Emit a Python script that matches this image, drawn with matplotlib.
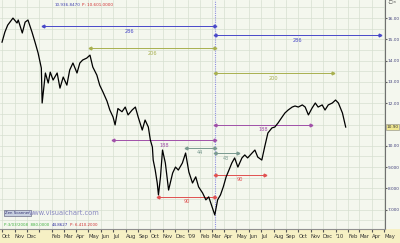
import numpy as np
import pandas as pd
import matplotlib
matplotlib.use("Agg")
import matplotlib.pyplot as plt
import matplotlib.dates as mdates
from matplotlib.patches import Rectangle

# price trace
dates = ["2007-10-01", "2007-10-08", "2007-10-15", "2007-10-28", "2007-11-07", "2007-11-10",
         "2007-11-20", "2007-11-27", "2007-12-04", "2007-12-14", "2007-12-22", "2007-12-29",
         "2008-01-06", "2008-01-08", "2008-01-16", "2008-01-23", "2008-01-28", "2008-02-04",
         "2008-02-14", "2008-02-21", "2008-02-29", "2008-03-09", "2008-03-16", "2008-03-24",
         "2008-04-03", "2008-04-10", "2008-04-17", "2008-04-27", "2008-05-05", "2008-05-12",
         "2008-05-22", "2008-05-29", "2008-06-06", "2008-06-16", "2008-06-23", "2008-07-01",
         "2008-07-06", "2008-07-13", "2008-07-23", "2008-07-31", "2008-08-07", "2008-08-17",
         "2008-08-25", "2008-09-01", "2008-09-11", "2008-09-18", "2008-09-26", "2008-10-01",
         "2008-10-06", "2008-10-08", "2008-10-13", "2008-10-18", "2008-10-21", "2008-10-26",
         "2008-10-31", "2008-11-07", "2008-11-15", "2008-11-25", "2008-12-02", "2008-12-09",
         "2008-12-19", "2008-12-27", "2009-01-04", "2009-01-13", "2009-01-21", "2009-01-28",
         "2009-02-07", "2009-02-15", "2009-02-22", "2009-03-09", "2009-03-16", "2009-03-23",
         "2009-03-30", "2009-04-06", "2009-04-13", "2009-04-20", "2009-04-27", "2009-05-05",
         "2009-05-15", "2009-05-22", "2009-05-29", "2009-06-09", "2009-06-16", "2009-06-23",
         "2009-07-03", "2009-07-10", "2009-07-18", "2009-07-28", "2009-08-04", "2009-08-12",
         "2009-08-22", "2009-08-29", "2009-09-06", "2009-09-16", "2009-09-23", "2009-10-01",
         "2009-10-11", "2009-10-18", "2009-10-26", "2009-11-04", "2009-11-12", "2009-11-19",
         "2009-11-29", "2009-12-06", "2009-12-14", "2009-12-24", "2010-01-01", "2010-01-08",
         "2010-01-18", "2010-01-26"]
prices = [14.87, 15.34, 15.67, 16.00, 15.77, 15.91,
          15.30, 15.81, 15.91, 15.34, 14.83, 14.36,
          13.65, 12.01, 13.42, 12.95, 13.46, 13.09,
          13.42, 12.71, 13.23, 12.85, 13.56, 13.89,
          13.42, 13.89, 14.03, 14.12, 14.26, 13.70,
          13.32, 12.85, 12.53, 12.10, 11.68, 11.35,
          10.98, 11.75, 11.60, 11.82, 11.45, 11.68,
          11.82, 11.35, 10.74, 11.21, 10.88, 10.27,
          9.94, 9.33, 8.86, 8.25, 7.69, 8.54,
          9.80, 9.19, 7.92, 8.72, 9.00, 8.86,
          9.19, 9.66, 8.77, 8.25, 8.54, 8.07,
          7.78, 7.46, 7.60, 6.75, 7.46, 7.69,
          8.07, 8.54, 8.86, 9.19, 9.43, 9.00,
          9.43, 9.57, 9.43, 9.66, 9.80, 9.47,
          9.33, 9.94, 10.60, 10.84, 10.88, 11.07,
          11.35, 11.54, 11.68, 11.82, 11.87, 11.82,
          11.92, 11.82, 11.45, 11.77, 12.01, 11.82,
          11.92, 11.68, 11.92, 12.01, 12.15, 12.01,
          11.54, 10.88]

# measurement lines: start, end, level, label, colour
m_start = ["2008-01-11", "2009-03-09", "2008-05-05", "2009-03-09", "2008-07-01",
           "2009-03-09", "2008-12-27", "2009-03-09", "2008-10-21", "2009-03-09"]
m_end = ["2009-03-09", "2010-04-21", "2009-03-09", "2009-12-25", "2009-03-09",
         "2009-11-01", "2009-03-09", "2009-05-05", "2009-03-09", "2009-07-10"]
m_level = [15.62, 15.20, 14.59, 13.42, 10.27, 10.98, 9.90, 9.66, 7.60, 8.63]
m_label = ["286", "286", "206", "200", "188", "188", "44", "43", "90", "90"]
m_color = ["#4848c8", "#4848c8", "#a8b050", "#a8b050", "#a050a8",
           "#a050a8", "#7a9a90", "#7a9a90", "#e05050", "#e05050"]
pivot = "2009-03-09"

yticks = [7, 8, 9, 10, 12, 13, 14, 15, 16]
ytick_labels = ["7.000", "8.000", "9.000", "10.00", "12.00", "13.00", "14.00", "15.00", "16.00"]
last_label = "10.90"

fig = plt.figure(figsize=(4, 2.43), dpi=100)
fig.patch.set_facecolor("#f4f7ee")
# x-axis strip
strip = Rectangle((0, 0), 1, 14 / 243, transform=fig.transFigure,
                  facecolor="#f6f0c4", edgecolor="none", zorder=-5)
fig.add_artist(strip)

ax = fig.add_axes([0, 14 / 243, 385 / 400, 229 / 243])
ax.set_zorder(2)
ax.set_facecolor("#f4f7ee")

d = pd.to_datetime(dates)
ax.plot(d, prices, color="black", lw=0.9, zorder=4)

for s, e, lv, lb, c in zip(m_start, m_end, m_level, m_label, m_color):
    s, e = pd.Timestamp(s), pd.Timestamp(e)
    ax.plot([s, e], [lv, lv], color=c, lw=0.7, zorder=3)
    ax.plot([s], [lv], marker="<", color=c, ms=2, zorder=3)
    ax.plot([e], [lv], marker=">", color=c, ms=2, zorder=3)
    ax.text(s + (e - s) / 2, lv - 0.12, lb, color=c, fontsize=3.6, ha="center", va="top", zorder=3)

ax.axvline(pd.Timestamp(pivot), color="#9090e0", lw=0.8, ls=(0, (1, 1)), zorder=2)

ax.set_xlim(pd.Timestamp("2007-09-26"), pd.Timestamp("2010-05-03"))
ax.set_ylim(6.09, 16.85)

ax.xaxis.set_major_locator(mdates.MonthLocator())
def month_fmt(x, pos):
    dt = mdates.num2date(x)
    if dt.month == 1:
        # the '08 label is not shown on the original
        return "" if dt.year == 2008 else "'" + dt.strftime("%y")
    return dt.strftime("%b")
ax.xaxis.set_major_formatter(plt.FuncFormatter(month_fmt))
ax.tick_params(axis="x", direction="out", length=2, pad=1.5, labelsize=3.8,
               colors="#555555", labelcolor="#333333")

ax.yaxis.tick_right()
ax.set_yticks(yticks)
ax.set_yticklabels(ytick_labels)
ax.tick_params(axis="y", direction="out", length=1.5, pad=0.5, labelsize=3.1,
               colors="#606060", labelcolor="#40407a")
ax.set_yticks(np.arange(6.5, 17, 0.5), minor=True)
ax.grid(True, which="both", color="#d6dfd0", lw=0.5)
ax.tick_params(axis="y", which="minor", length=0)

for sp in ["top", "left"]:
    ax.spines[sp].set_visible(False)
ax.spines["right"].set_color("#707070")
ax.spines["bottom"].set_color("#909090")

fig.canvas.draw()
for lab in ax.get_xticklabels():
    lab.set_horizontalalignment("left")

# last value box
ax.text(1.004, (prices[-1] - 6.09) / (16.85 - 6.09), last_label, transform=ax.transAxes,
        fontsize=3.1, color="#333333", va="center", ha="left",
        bbox=dict(boxstyle="square,pad=0.15", fc="#f0e890", ec="#888888", lw=0.4))

# header and footer texts
fig.text(55 / 400, 1 - 5 / 243, "10.936.8470", color="#4040b0", fontsize=3.0, va="center")
fig.text(82 / 400, 1 - 5 / 243, "P: 10.601.0000", color="#d03030", fontsize=3.0, va="center")
fig.text(5 / 400, 1 - 213 / 243, "Zen Scanner", color="#303070", fontsize=2.8, va="center",
         bbox=dict(boxstyle="square,pad=0.2", fc="#c8d0e0", ec="#505070", lw=0.4))
fig.text(29 / 400, 1 - 213 / 243, "www.visualchart.com", color="#8888c0", fontsize=4.8,
         va="center")
fig.text(4 / 400, 1 - 225 / 243, "P:3/03/2008  880.0000", color="#40b040", fontsize=2.9,
         va="center")
fig.text(52 / 400, 1 - 225 / 243, "44.8627", color="#3030a0", fontsize=2.9, va="center")
fig.text(70 / 400, 1 - 225 / 243, "P: 6.410.2000", color="#d03030", fontsize=2.9, va="center")
fig.text(0.994, 0.998, "-\u25a1\u00d7", color="#404040", fontsize=3.2, ha="right", va="top")
fig.add_artist(plt.Line2D([399.6 / 400, 399.6 / 400], [14 / 243, 1], color="#404040", lw=0.7,
                          transform=fig.transFigure))

fig.savefig("out.png", dpi=100, facecolor=fig.get_facecolor())
